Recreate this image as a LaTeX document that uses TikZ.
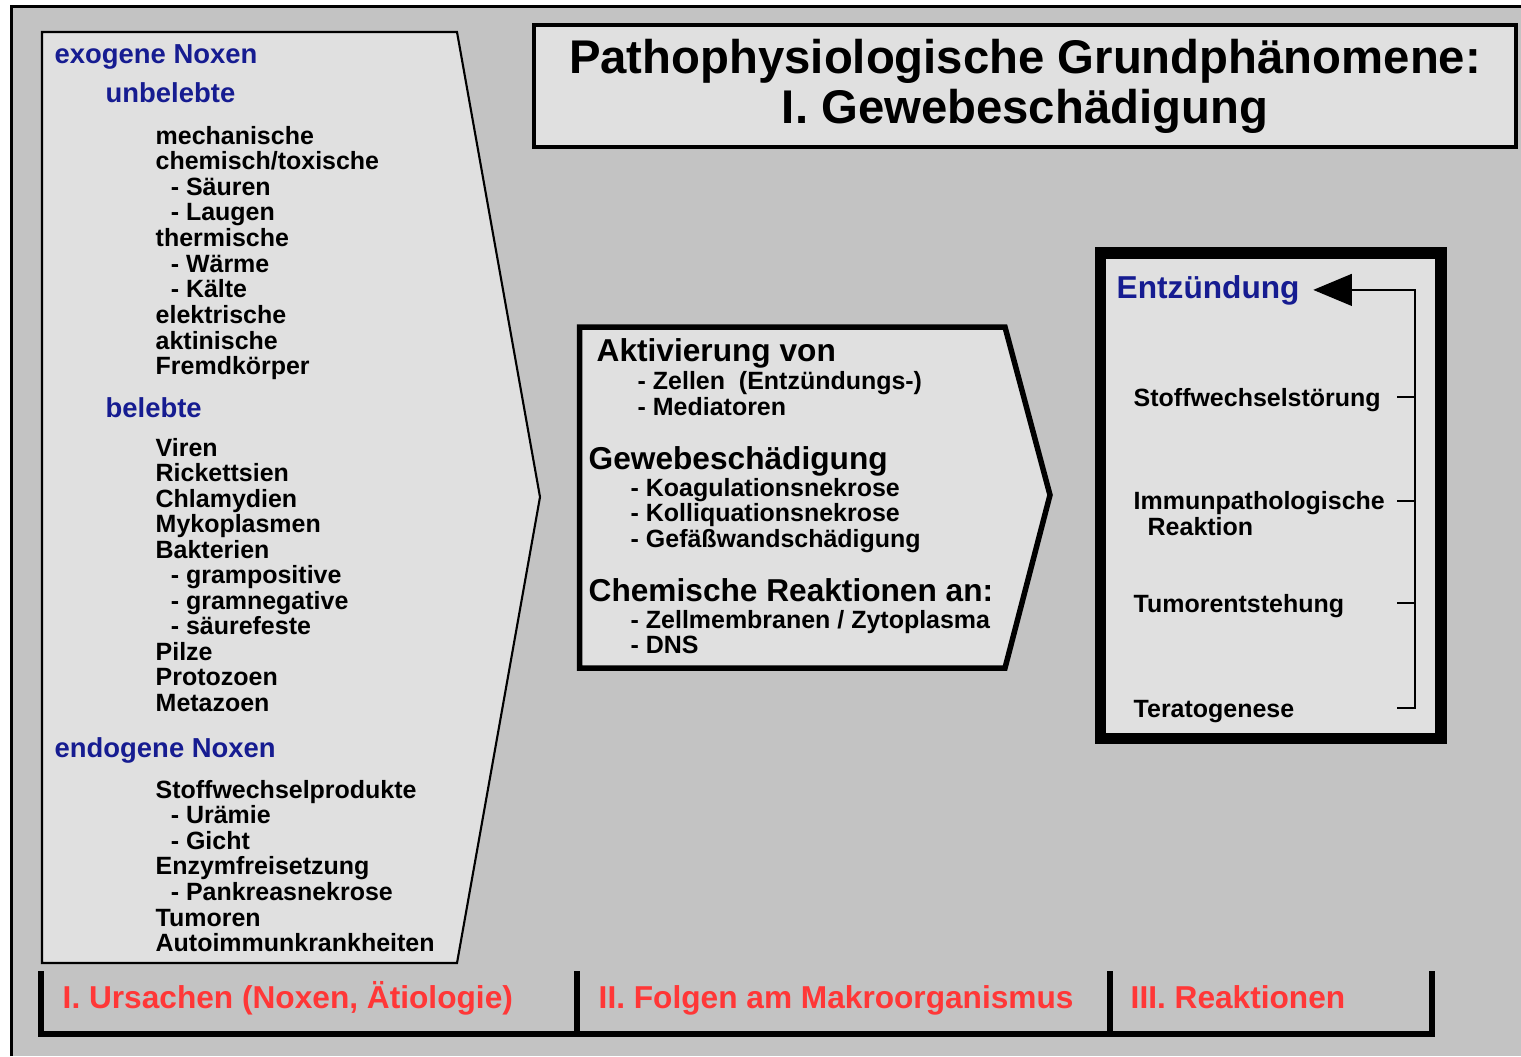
\documentclass[tikz,border=0pt]{standalone}
\usepackage{fontspec}
\setmainfont{Liberation Sans}
\usepackage{tikz}
\usetikzlibrary{arrows.meta}
\definecolor{Bggray}{RGB}{195,195,195}
\definecolor{Boxgray}{RGB}{224,224,224}
\definecolor{Noxblue}{RGB}{22,28,145}
\definecolor{Labelred}{RGB}{255,55,55}
\newcommand{\dsh}{\hspace*{4.3pt}- }

\begin{document}
\begin{tikzpicture}[x=0.01cm,y=-0.01cm,
	txt/.style={anchor=base west,inner sep=0pt,font=\fontsize{7.1}{8.5}\selectfont\bfseries},
	head/.style={anchor=base west,inner sep=0pt,text=Noxblue,font=\fontsize{7.8}{9}\selectfont\bfseries},
	bighead/.style={anchor=base west,inner sep=0pt,font=\fontsize{9}{10}\selectfont\bfseries},
	redlabel/.style={anchor=base west,inner sep=0pt,text=Labelred,font=\fontsize{9}{10}\selectfont\bfseries},
	panel/.style={draw,fill=Boxgray}]

\useasboundingbox (0,0) rectangle (1521,1056);
\fill[white] (0,0) rectangle (1521,1056);
\fill[Bggray] (11.5,6.5) rectangle (1521,1056);
\draw[line width=0.85pt] (11.5,1056) -- (11.5,6.5) -- (1521,6.5);

\begin{scope}[>={Triangle[length=11pt,width=9pt]}]

% I. Ursachen
\draw[panel,line width=0.6pt] (42,32) -- (457,32) -- (540,497) -- (457,963) -- (42,963) -- cycle;
\node[head] (exo) at (54,63) {exogene Noxen};
\node[head] (unbel) at (105,102.5) {unbelebte};
\foreach \t [count=\i from 0] in {mechanische,chemisch/toxische,\dsh Säuren,\dsh Laugen,thermische,\dsh Wärme,\dsh Kälte,elektrische,aktinische,Fremdkörper}
	\node[txt] (a\i) at (155,{144+25.65*\i}) {\t};
\node[head] (bel) at (105,417) {belebte};
\foreach \t [count=\i from 0] in {Viren,Rickettsien,Chlamydien,Mykoplasmen,Bakterien,\dsh grampositive,\dsh gramnegative,\dsh säurefeste,Pilze,Protozoen,Metazoen}
	\node[txt] (b\i) at (155,{456+25.5*\i}) {\t};
\node[head] (endo) at (54,757) {endogene Noxen};
\foreach \t [count=\i from 0] in {Stoffwechselprodukte,\dsh Urämie,\dsh Gicht,Enzymfreisetzung,\dsh Pankreasnekrose,Tumoren,Autoimmunkrankheiten}
	\node[txt] (c\i) at (155,{798+25.65*\i}) {\t};

% Titel
\node[panel,line width=1.14pt,minimum width=9.815cm,minimum height=1.21cm,align=center,
	font=\fontsize{13.45}{14.2}\selectfont\bfseries] (title) at (1025,86)
	{Pathophysiologische Grundphänomene:\\I. Gewebeschädigung};

% II. Folgen
\draw[panel,line width=1.56pt] (579.5,327) -- (1005,327) -- (1050,495) -- (1005,668) -- (579.5,668) -- cycle;
\node[bighead] (akt) at (596,361) {Aktivierung von};
\node[txt] (akt1) at (637,389) {- Zellen\ \ (Entzündungs-)};
\node[txt] (akt2) at (637,415) {- Mediatoren};
\node[bighead] (gew) at (588,469) {Gewebeschädigung};
\node[txt] (gew1) at (630,496) {- Koagulationsnekrose};
\node[txt] (gew2) at (630,521.5) {- Kolliquationsnekrose};
\node[txt] (gew3) at (630,547) {- Gefäßwandschädigung};
\node[bighead] (chem) at (588,601) {Chemische Reaktionen an:};
\node[txt] (chem1) at (630,628) {- Zellmembranen / Zytoplasma};
\node[txt] (chem2) at (630,653) {- DNS};

% III. Reaktionen
\draw[panel,line width=3.27pt] (1100.5,253) rectangle (1441,738.5);
\node[bighead,text=Noxblue,inner xsep=3.7pt] (entz) at (1103,298) {Entzündung};
\node[txt] (stoff) at (1133,406) {Stoffwechselstörung};
\node[txt] (immun) at (1133,509) {Immunpathologische};
\node[txt] (reakt) at (1147,535) {Reaktion};
\node[txt] (tumor) at (1133,612) {Tumorentstehung};
\node[txt] (terat) at (1133,717) {Teratogenese};
\coordinate (spine) at (1415,290);
\coordinate (t1) at (1397,397);
\coordinate (t2) at (1397,501);
\coordinate (t3) at (1397,603);
\coordinate (t4) at (1397,708);
\draw[line width=0.71pt,->] (t4) -| (spine |- entz.east) -- (entz.east);
\foreach \n in {t1,t2,t3}
	\draw[line width=0.71pt] (\n) -- (\n -| spine);

% Leiste unten
\draw[line width=1.71pt] (41,971) -- (41,1034) -- (1432,1034) -- (1432,971);
\draw[line width=1.71pt] (577,971) -- (577,1034) (1110,971) -- (1110,1034);
\node[redlabel] (ursachen) at (62,1008) {I. Ursachen (Noxen, Ätiologie)};
\node[redlabel] (folgen) at (598,1008) {II. Folgen am Makroorganismus};
\node[redlabel] (reaktionen) at (1130,1008) {III. Reaktionen};

\end{scope}
\end{tikzpicture}
\end{document}
